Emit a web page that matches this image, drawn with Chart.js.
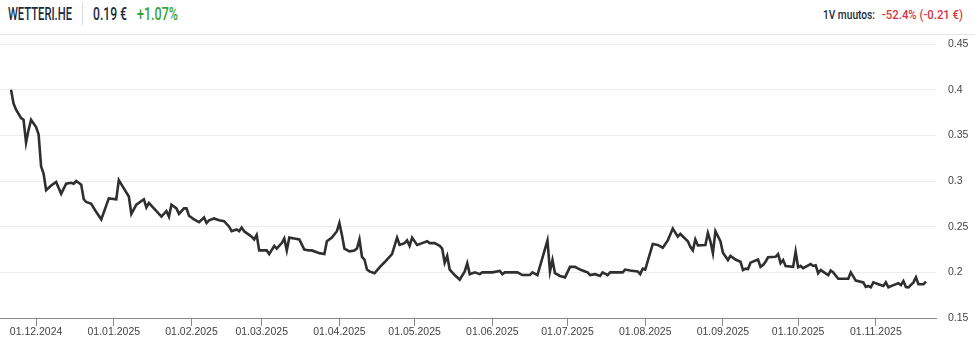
<!DOCTYPE html>
<html>
<head>
<meta charset="utf-8">
<script src="https://cdn.jsdelivr.net/npm/chart.js@4/dist/chart.umd.min.js"></script>
<style>
  html, body { margin: 0; padding: 0; background: #fff; }
  body { width: 975px; height: 339px; position: relative; overflow: hidden; font-family: Roboto, "Liberation Sans", sans-serif; }
  #header { position: absolute; left: 0; top: 0; width: 975px; height: 34px; border-bottom: 1px solid #e6e6e6; }
  .t { position: absolute; white-space: nowrap; transform-origin: 0 50%; line-height: 1; }
  #divider { position: absolute; left: 82px; top: 2px; width: 1px; height: 23px; background: #dcdcdc; }
  #wrap { position: absolute; left: 0; top: 35px; width: 975px; height: 304px; }
</style>
</head>
<body>
<div id="header">
  <span class="t" id="ticker" data-w="64" style="left:8px; top:6px; font-size:17.5px; font-weight:500; color:#1b2b3c;">WETTERI.HE</span>
  <div id="divider"></div>
  <span class="t" id="price" data-w="34" style="left:93px; top:6px; font-size:17.5px; font-weight:500; color:#1b2b3c;">0.19 €</span>
  <span class="t" id="chg" data-w="41" style="left:137px; top:6px; font-size:17.5px; font-weight:500; color:#35a335;">+1.07%</span>
  <span class="t" id="yl" data-w="52" style="left:823px; top:8px; font-size:13.5px; font-weight:500; color:#1b2b3c;">1V muutos:</span>
  <span class="t" id="yv" data-w="81" style="left:882px; top:8px; font-size:13.5px; font-weight:500; color:#d9363e;">-52.4% (-0.21 €)</span>
</div>
<div id="wrap"><canvas id="c" width="975" height="304"></canvas></div>
<script>
// ---- data (days counted from 01.12.2024) ----
const dayOffsets = [
  -10,-9,-8,-6,-5,-4,-3,-2,0,1,2,3,4,6,8,10,12,14,15,16,18,19,20,22,24,26,29,32,33,35,
  37,38,40,43,44,45,47,50,52,53,54,56,57,59,60,61,63,65,67,68,69,71,73,75,77,78,80,81,82,83,
  85,86,87,88,89,91,92,93,95,96,98,99,100,101,103,105,107,109,110,112,113,115,116,118,120,121,122,123,125,127,
  128,129,130,131,132,133,135,137,139,142,144,145,147,148,149,150,152,154,156,157,159,161,162,163,164,165,167,169,171,172,
  173,175,177,178,182,185,186,187,192,194,197,198,200,204,205,206,207,209,211,213,215,217,219,220,221,223,225,226,228,229,
  234,235,237,240,241,242,243,246,248,250,252,254,256,257,260,261,262,263,264,267,268,269,270,271,273,274,276,277,279,281,
  282,283,284,285,288,289,290,291,292,295,296,297,298,299,302,303,304,305,306,309,310,311,312,313,316,317,318,320,324,325,
  327,330,331,332,333,334,336,338,339,340,342,344,345,346,347,348,350,351,352,354,355
];
const prices = [
  0.400,0.385,0.378,0.369,0.367,0.342,0.356,0.367,0.359,0.351,0.316,0.308,0.290,0.295,0.299,0.286,0.297,0.298,0.297,0.300,0.296,0.280,0.277,0.275,0.266,0.258,0.281,0.280,0.301,0.292,
  0.283,0.264,0.274,0.280,0.271,0.276,0.270,0.261,0.267,0.261,0.274,0.270,0.264,0.270,0.270,0.262,0.258,0.255,0.260,0.254,0.257,0.259,0.257,0.256,0.250,0.245,0.247,0.245,0.249,0.245,
  0.241,0.239,0.236,0.241,0.224,0.224,0.224,0.220,0.229,0.226,0.232,0.237,0.224,0.238,0.237,0.236,0.225,0.224,0.224,0.222,0.221,0.220,0.234,0.238,0.245,0.254,0.241,0.226,0.223,0.224,
  0.226,0.236,0.217,0.214,0.203,0.201,0.199,0.2055,0.211,0.220,0.238,0.230,0.232,0.235,0.229,0.238,0.230,0.232,0.234,0.232,0.232,0.229,0.226,0.2105,0.218,0.203,0.197,0.192,0.201,0.210,
  0.198,0.200,0.198,0.200,0.200,0.2015,0.198,0.200,0.200,0.197,0.197,0.200,0.197,0.235,0.201,0.2135,0.199,0.196,0.1945,0.206,0.206,0.203,0.201,0.200,0.197,0.198,0.196,0.200,0.197,0.200,
  0.200,0.203,0.202,0.201,0.198,0.204,0.203,0.231,0.230,0.227,0.235,0.248,0.239,0.242,0.234,0.228,0.224,0.236,0.2295,0.230,0.243,0.234,0.221,0.245,0.234,0.2215,0.2135,0.218,0.214,0.2116,
  0.2025,0.204,0.2036,0.2106,0.214,0.206,0.208,0.2116,0.2165,0.217,0.220,0.210,0.2135,0.207,0.206,0.2226,0.2055,0.207,0.2045,0.209,0.207,0.2077,0.199,0.2025,0.197,0.202,0.200,0.193,0.193,0.200,
  0.191,0.189,0.184,0.185,0.1836,0.189,0.187,0.185,0.189,0.1836,0.186,0.188,0.186,0.1905,0.184,0.1836,0.189,0.1946,0.187,0.187,0.1898
];
const tickLabels = ['01.12.2024','01.01.2025','01.02.2025','01.03.2025','01.04.2025','01.05.2025',
                    '01.06.2025','01.07.2025','01.08.2025','01.09.2025','01.10.2025','01.11.2025'];
const yTicks = [0.15, 0.2, 0.25, 0.3, 0.35, 0.4, 0.45];

// condensed header text
document.querySelectorAll('.t').forEach(el => {
  const w = el.getBoundingClientRect().width;
  el.style.transform = 'scaleX(' + (parseFloat(el.dataset.w) / w) + ')';
});

function labelToDay(s) {
  const [d, m, y] = s.split('.').map(Number);
  return Math.round((Date.UTC(y, m - 1, d) - Date.UTC(2024, 11, 1)) / 86400000);
}
const tickDays = tickLabels.map(labelToDay);
const points = dayOffsets.map((d, i) => ({ x: d, y: prices[i] }));

new Chart(document.getElementById('c'), {
  type: 'line',
  data: { datasets: [{
    data: points,
    borderColor: '#2f2f2f',
    borderWidth: 2.6,
    pointRadius: 0,
    tension: 0,
    fill: false
  }]},
  options: {
    responsive: false,
    animation: false,
    events: [],
    layout: { padding: { top: 9, left: 0, right: 0, bottom: 0 } },
    plugins: { legend: { display: false }, tooltip: { enabled: false } },
    scales: {
      x: {
        type: 'linear',
        min: -14.4,
        max: 359,
        afterBuildTicks: s => { s.ticks = tickDays.map(v => ({ value: v })); },
        afterFit: s => { s.height = 21; },
        grid: { drawOnChartArea: false, drawTicks: true, tickLength: 8, color: '#8a8a8a' },
        border: { display: true, color: '#8a8a8a', width: 1 },
        ticks: {
          autoSkip: false, maxRotation: 0, padding: 0,
          color: '#444',
          font: { family: '"Liberation Sans", Arial, sans-serif', size: 10.5 },
          callback: v => tickLabels[tickDays.indexOf(v)] || ''
        }
      },
      y: {
        position: 'right',
        min: 0.15,
        max: 0.45,
        afterBuildTicks: s => { s.ticks = yTicks.map(v => ({ value: v })); },
        afterFit: s => { s.width = 39; s.paddingTop = 0; s.paddingBottom = 0; },
        grid: { color: '#ececec', drawTicks: false, lineWidth: 1 },
        border: { display: false },
        ticks: {
          padding: 12,
          color: '#444',
          font: { family: '"Liberation Sans", Arial, sans-serif', size: 10.5 },
          callback: v => String(+v.toFixed(2))
        }
      }
    }
  }
});
</script>
</body>
</html>
